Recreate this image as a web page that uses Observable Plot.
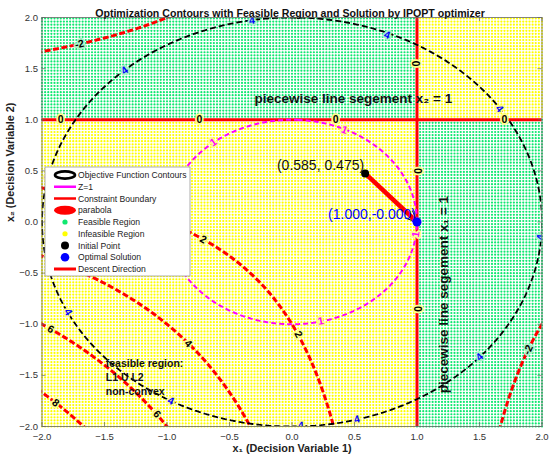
<!DOCTYPE html>
<html><head><meta charset="utf-8">
<script src="https://cdn.jsdelivr.net/npm/d3@7"></script>
<script src="https://cdn.jsdelivr.net/npm/@observablehq/plot@0.6"></script>
<style>body{margin:0;background:#fff}</style>
</head><body><div id="chart"></div>
<script>
// ---------- data ----------
const titleText = "Optimization Contours with Feasible Region and Solution by IPOPT optimizer";
const xLabelText = "x\u2081 (Decision Variable 1)";
const yLabelText = "x\u2082 (Decision Variable 2)";
const xTicks = [-2, -1.5, -1, -0.5, 0, 0.5, 1, 1.5, 2];
const yTicks = [-2, -1.5, -1, -0.5, 0, 0.5, 1, 1.5, 2];
const domainX = [-2, 2];
const domainY = [-2, 2];
const objectiveLevels = [4];        // black dashed contour
const zLevels = [1];                // magenta Z=1 contour
const constraintLevels = [-2, 2, 4, 6, 8]; // red "parabola" contours
const boundaryX1 = [1];             // x1 = 1 line
const boundaryX2 = [1];             // x2 = 1 line
const initialPoint = [{x: 0.585, y: 0.475, label: "(0.585, 0.475)"}];
const optimalPoint = [{x: 1.000, y: -0.000, label: "(1.000,-0.000)"}];
const descent = [{x1: 0.585, y1: 0.475, x2: 1.000, y2: -0.000}];
const gridStepX = 0.025, gridStepY = 0.03;

const objectiveLabels = [
  {x: -1.95, y: 0.42, text: "4"}, {x: -1.34, y: 1.48, text: "4"}, {x: -0.32, y: 1.97, text: "4"},
  {x: 0.76, y: 1.83, text: "4"}, {x: 1.66, y: 1.11, text: "4"}, {x: 1.99, y: -0.15, text: "4"},
  {x: 1.50, y: -1.32, text: "4"}, {x: 0.52, y: -1.93, text: "4"}, {x: 0.07, y: -1.99, text: "4"},
  {x: -0.97, y: -1.75, text: "4"}, {x: -1.79, y: -0.88, text: "4"}
];
const zLabels = [
  {x: -0.63, y: 0.78, text: "1"}, {x: 0.42, y: 0.90, text: "1"},
  {x: 0.23, y: -0.97, text: "1"}, {x: 0.99, y: -0.12, text: "1"}
];
const constraintLabels = [
  {x: -1.70, y: 1.74, text: "-2"}, {x: 1.89, y: -1.25, text: "-2"},
  {x: -1.85, y: 1, text: "0"}, {x: -0.74, y: 1, text: "0"}, {x: 0.35, y: 1, text: "0"}, {x: 1.70, y: 1, text: "0"},
  {x: 1, y: 1.55, text: "0"}, {x: 1, y: 0.50, text: "0"}, {x: 1, y: -0.85, text: "0"},
  {x: -0.71, y: -0.17, text: "2"}, {x: 0.05, y: -1.10, text: "2"},
  {x: -0.83, y: -1.19, text: "4"},
  {x: -1.93, y: -1.05, text: "6"}, {x: -1.08, y: -1.88, text: "6"},
  {x: -1.89, y: -1.77, text: "8"}
];
const noteText = "feasible region:\nL1 U L2\nnon-convex";
const notePos = [{x: -1.49, y: -1.51}];
const seg2Text = "piecewise line segement x\u2082 = 1";
const seg2Pos = [{x: -0.30, y: 1.205}];
const seg1Text = "piecewise line segement x\u2081 = 1";
const seg1Pos = [{x: 1.212, y: -0.71}];
const legendLabels = ["Objective Function Contours", "Z=1", "Constraint Boundary", "parabola",
  "Feasible Region", "Infeasible Region", "Initial Point", "Optimal Solution", "Descent Direction"];

// ---------- functions ----------
const objective = (x, y) => x * x + y * y;
const constraint = (x, y) => (x - 1) * (y - 1);
const objGrad = d => [2 * d.x, 2 * d.y];
const conGrad = d => [d.y - 1, d.x - 1];

// grid of sample dots
const gridPts = [];
for (let i = 0; -2 + i * gridStepX <= 2.0001; i++) {
  for (let j = 0; -2 + j * gridStepY <= 2.0001; j++) {
    const x = -2 + i * gridStepX, y = -2 + j * gridStepY;
    gridPts.push({x, y, feasible: constraint(x, y) <= 0});
  }
}
const feasiblePts = gridPts.filter(d => d.feasible);
const infeasiblePts = gridPts.filter(d => !d.feasible);

const W = 550, H = 463, ML = 41.5, MR = 8.5, MT = 17, MB = 37;
const kx = (W - ML - MR) / 4, ky = (H - MT - MB) / 4;
function labelAngle(g) {
  const tx = -g[1], ty = g[0];
  let a = Math.atan2(-ty * ky, tx * kx) * 180 / Math.PI;
  if (a > 90) a -= 180;
  if (a < -90) a += 180;
  return a;
}

const GREEN = "#10e870", YELLOW = "#ffff00";
const HALO_G = "#a6f3c6", HALO_Y = "#ffff8a";

// contour labels with a halo that mimics the gap in the contour line
function contourLabels(data, grad, color) {
  const opts = inG => ({x: "x", y: "y", text: "text", rotate: d => labelAngle(grad(d)), fill: color,
    fontSize: 10.5, fontWeight: "bold", stroke: inG ? HALO_G : HALO_Y, strokeWidth: 3.5,
    paintOrder: "stroke", clip: true});
  return [
    Plot.text(data.filter(d => constraint(d.x, d.y) < 0), opts(true)),
    Plot.text(data.filter(d => constraint(d.x, d.y) >= 0), opts(false))
  ];
}

const chart = Plot.plot({
  width: W, height: H, marginLeft: ML, marginRight: MR, marginTop: MT, marginBottom: MB,
  x: {domain: domainX}, y: {domain: domainY},
  style: {fontFamily: "'Liberation Sans', Arial, sans-serif", background: "white", color: "#262626", fontSize: "9.5px"},
  marks: [
    Plot.dot(feasiblePts, {x: "x", y: "y", r: 1.1, fill: GREEN, stroke: null}),
    Plot.dot(infeasiblePts, {x: "x", y: "y", r: 1.1, fill: YELLOW, stroke: null}),
    Plot.contour({x1: -2.3, y1: -2.3, x2: 2.3, y2: 2.3, value: constraint, thresholds: constraintLevels,
      fill: "none", stroke: "red", strokeWidth: 3, strokeDasharray: "6,2.5", clip: true}),
    Plot.ruleX(boundaryX1, {stroke: "red", strokeWidth: 3}),
    Plot.ruleY(boundaryX2, {stroke: "red", strokeWidth: 3}),
    Plot.contour({x1: -2.3, y1: -2.3, x2: 2.3, y2: 2.3, value: objective, thresholds: objectiveLevels,
      fill: "none", stroke: "black", strokeWidth: 1.8, strokeDasharray: "6,3", clip: true}),
    Plot.contour({x1: -2.3, y1: -2.3, x2: 2.3, y2: 2.3, value: objective, thresholds: zLevels,
      fill: "none", stroke: "#ff00ff", strokeWidth: 2, strokeDasharray: "5,3", clip: true}),
    ...contourLabels(objectiveLabels, objGrad, "#0000ff"),
    ...contourLabels(zLabels, objGrad, "#ff00ff"),
    ...contourLabels(constraintLabels, conGrad, "black"),
    Plot.arrow(descent, {x1: "x1", y1: "y1", x2: "x2", y2: "y2", stroke: "black", strokeWidth: 1, headLength: 18, headAngle: 50}),
    Plot.link(descent, {x1: "x1", y1: "y1", x2: "x2", y2: "y2", stroke: "red", strokeWidth: 4.5}),
    Plot.dot(initialPoint, {x: "x", y: "y", r: 4, fill: "black"}),
    Plot.dot(optimalPoint, {x: "x", y: "y", r: 4.5, fill: "#0000ff"}),
    Plot.text(initialPoint, {x: "x", y: "y", text: "label", textAnchor: "end", dx: -1, dy: -8, fontSize: 14, fill: "#111"}),
    Plot.text(optimalPoint, {x: "x", y: "y", text: "label", textAnchor: "end", dx: -1, dy: -7, fontSize: 14, fill: "#0000ff"}),
    Plot.text(seg2Pos, {x: "x", y: "y", text: () => seg2Text, textAnchor: "start", fontSize: 13.5, fontWeight: "bold", fill: "#111"}),
    Plot.text(seg1Pos, {x: "x", y: "y", text: () => seg1Text, rotate: -90, fontSize: 13.5, fontWeight: "bold", fill: "#111"}),
    Plot.text(notePos, {x: "x", y: "y", text: () => noteText, textAnchor: "start", lineHeight: 1.33, fontSize: 10.5, fontWeight: "bold", fill: "#111"}),
    Plot.frame({stroke: "#666", strokeWidth: 0.8}),
    Plot.tickX(xTicks, {x: d => d, insetTop: (H - MT - MB) - 4, stroke: "#666", strokeWidth: 0.7}),
    Plot.tickX(xTicks, {x: d => d, insetBottom: (H - MT - MB) - 4, stroke: "#666", strokeWidth: 0.7}),
    Plot.tickY(yTicks, {y: d => d, insetRight: (W - ML - MR) - 4, stroke: "#666", strokeWidth: 0.7}),
    Plot.tickY(yTicks, {y: d => d, insetLeft: (W - ML - MR) - 4, stroke: "#666", strokeWidth: 0.7}),
    Plot.axisX({ticks: xTicks, tickSize: 0, tickPadding: 7, label: null, fill: "#333"}),
    Plot.axisY({ticks: yTicks, tickSize: 0, tickPadding: 4, label: null, fill: "#333"}),
    Plot.text([titleText], {text: d => d, frameAnchor: "top", dy: -8, dx: -2, fontSize: 10.6, fontWeight: "bold", fill: "#111"}),
    Plot.text([xLabelText], {text: d => d, frameAnchor: "bottom", dy: 25, fontSize: 10.8, fontWeight: "bold", fill: "#222"}),
    Plot.text([yLabelText], {text: d => d, frameAnchor: "left", dx: -31, rotate: -90, fontSize: 10.8, fontWeight: "bold", fill: "#222"})
  ]
});
document.getElementById("chart").appendChild(chart);

// ---------- legend (drawn on top of the plot svg) ----------
const svg = d3.select(chart);
const lg = svg.append("g").attr("transform", "translate(45,167)");
lg.append("rect").attr("width", 145).attr("height", 109).attr("fill", "white").attr("stroke", "#9a9a9a").attr("stroke-width", 0.8);
const rowY = i => 8 + i * 11.75;
const sx = 20;
legendLabels.forEach((t, i) => {
  const y = rowY(i);
  const g = lg.append("g");
  if (i === 0) g.append("ellipse").attr("cx", sx).attr("cy", y).attr("rx", 10).attr("ry", 3.6).attr("fill", "none").attr("stroke", "black").attr("stroke-width", 2.6);
  if (i === 1) g.append("line").attr("x1", sx - 11).attr("x2", sx + 11).attr("y1", y).attr("y2", y).attr("stroke", "#ff00ff").attr("stroke-width", 2.5);
  if (i === 2) g.append("line").attr("x1", sx - 11).attr("x2", sx + 11).attr("y1", y).attr("y2", y).attr("stroke", "red").attr("stroke-width", 2.5);
  if (i === 3) g.append("ellipse").attr("cx", sx).attr("cy", y).attr("rx", 11).attr("ry", 4.6).attr("fill", "red");
  if (i === 4) g.append("circle").attr("cx", sx).attr("cy", y).attr("r", 2.6).attr("fill", GREEN);
  if (i === 5) g.append("circle").attr("cx", sx).attr("cy", y).attr("r", 2.6).attr("fill", YELLOW);
  if (i === 6) g.append("circle").attr("cx", sx).attr("cy", y).attr("r", 4).attr("fill", "black");
  if (i === 7) g.append("circle").attr("cx", sx).attr("cy", y).attr("r", 4.3).attr("fill", "#0000ff");
  if (i === 8) g.append("line").attr("x1", sx - 11).attr("x2", sx + 11).attr("y1", y).attr("y2", y).attr("stroke", "red").attr("stroke-width", 3);
  g.append("text").attr("x", 33).attr("y", y).attr("dy", "0.35em").attr("text-anchor", "start")
    .attr("font-size", 8.6).attr("fill", "#222")
    .attr("font-family", "'Liberation Sans', Arial, sans-serif").text(t);
});
</script>
</body></html>
